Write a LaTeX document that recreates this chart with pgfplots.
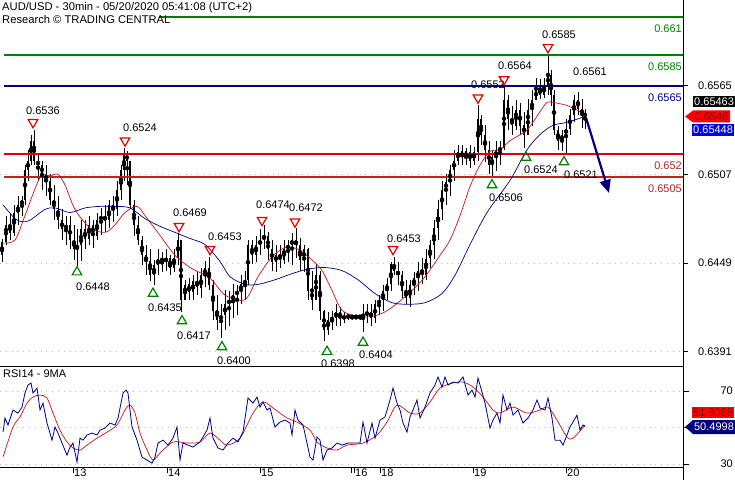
\documentclass[border=0pt]{standalone}
\usepackage{fontspec}
\setmainfont{Liberation Sans}
\usepackage{pgfplots}
\pgfplotsset{compat=1.18}
\usepackage{pgfplotstable}
\usetikzlibrary{arrows.meta}

\definecolor{tcgreen}{RGB}{0,128,0}
\definecolor{tcnavy}{RGB}{0,0,128}
\definecolor{tcred}{RGB}{225,0,0}
\definecolor{tcdred}{RGB}{200,30,30}
\definecolor{tclabel}{RGB}{170,40,40}
\definecolor{tcblue}{RGB}{0,0,230}
\definecolor{flagtext}{RGB}{130,0,0}
\definecolor{gridgray}{RGB}{185,185,185}
\definecolor{mared}{RGB}{200,20,20}

% 30min candles (sampled), x = bar position
\pgfplotstableread{
x o h l c
2 0.6454 0.6465 0.6450 0.6463
6 0.6463 0.6480 0.6461 0.6474
10 0.6474 0.6482 0.6464 0.6469
14 0.6469 0.6487 0.6467 0.6482
18 0.6482 0.6493 0.6474 0.6487
22 0.6487 0.6493 0.6480 0.6490
25 0.6490 0.6513 0.6487 0.6510
28 0.6510 0.6523 0.6503 0.6516
31 0.6516 0.6533 0.6513 0.6529
34 0.6529 0.6536 0.6513 0.6516
38 0.6516 0.6520 0.6503 0.6513
42 0.6513 0.6516 0.6497 0.6507
46 0.6507 0.6513 0.6493 0.6503
50 0.6503 0.6507 0.6487 0.6490
54 0.6490 0.6500 0.6477 0.6484
58 0.6484 0.6493 0.6471 0.6477
62 0.6477 0.6484 0.6464 0.6471
66 0.6471 0.6480 0.6461 0.6474
70 0.6474 0.6480 0.6458 0.6464
74 0.6464 0.6474 0.6451 0.6458
77 0.6458 0.6471 0.6447 0.6461
81 0.6461 0.6477 0.6450 0.6471
85 0.6471 0.6477 0.6458 0.6465
89 0.6465 0.6480 0.6461 0.6474
93 0.6474 0.6477 0.6459 0.6467
97 0.6467 0.6482 0.6464 0.6477
101 0.6477 0.6485 0.6467 0.6480
105 0.6480 0.6487 0.6469 0.6477
109 0.6477 0.6490 0.6472 0.6487
113 0.6487 0.6493 0.6476 0.6484
117 0.6484 0.6503 0.6480 0.6497
121 0.6497 0.6513 0.6490 0.6510
124 0.6510 0.6524 0.6503 0.6520
127 0.6520 0.6522 0.6500 0.6516
130 0.6516 0.6516 0.6484 0.6487
134 0.6487 0.6490 0.6467 0.6474
138 0.6474 0.6480 0.6461 0.6464
142 0.6464 0.6467 0.6448 0.6454
146 0.6454 0.6461 0.6441 0.6450
150 0.6450 0.6458 0.6437 0.6441
154 0.6441 0.6451 0.6435 0.6448
158 0.6448 0.6458 0.6441 0.6452
162 0.6452 0.6456 0.6443 0.6450
166 0.6450 0.6458 0.6444 0.6452
170 0.6452 0.6454 0.6441 0.6446
174 0.6446 0.6458 0.6443 0.6452
178 0.6452 0.6469 0.6448 0.6464
181 0.6464 0.6464 0.6417 0.6425
185 0.6425 0.6438 0.6425 0.6435
189 0.6435 0.6439 0.6425 0.6430
193 0.6430 0.6441 0.6425 0.6437
197 0.6437 0.6444 0.6428 0.6433
201 0.6433 0.6446 0.6426 0.6441
205 0.6441 0.6450 0.6433 0.6446
209 0.6446 0.6453 0.6431 0.6435
213 0.6435 0.6438 0.6412 0.6418
217 0.6418 0.6428 0.6405 0.6412
221 0.6412 0.6422 0.6400 0.6415
225 0.6415 0.6431 0.6405 0.6422
229 0.6422 0.6431 0.6408 0.6425
233 0.6425 0.6435 0.6413 0.6428
237 0.6428 0.6435 0.6415 0.6431
241 0.6431 0.6441 0.6422 0.6435
245 0.6435 0.6444 0.6425 0.6438
248 0.6438 0.6464 0.6435 0.6461
252 0.6461 0.6464 0.6448 0.6454
256 0.6454 0.6467 0.6450 0.6461
260 0.6461 0.6471 0.6454 0.6464
264 0.6464 0.6474 0.6458 0.6467
268 0.6467 0.6469 0.6451 0.6458
272 0.6458 0.6464 0.6444 0.6450
276 0.6450 0.6461 0.6443 0.6454
280 0.6454 0.6461 0.6446 0.6451
284 0.6451 0.6464 0.6448 0.6458
288 0.6458 0.6464 0.6450 0.6461
292 0.6461 0.6469 0.6448 0.6464
296 0.6464 0.6472 0.6452 0.6461
300 0.6461 0.6465 0.6444 0.6451
304 0.6451 0.6461 0.6443 0.6458
308 0.6458 0.6459 0.6425 0.6431
312 0.6431 0.6444 0.6418 0.6425
316 0.6425 0.6448 0.6425 0.6441
320 0.6441 0.6444 0.6412 0.6418
324 0.6418 0.6418 0.6398 0.6405
328 0.6405 0.6417 0.6402 0.6412
332 0.6412 0.6418 0.6405 0.6413
336 0.6413 0.6422 0.6408 0.6417
340 0.6417 0.6420 0.6408 0.6413
344 0.6413 0.6417 0.6410 0.6414
348 0.6414 0.6416 0.6412 0.6414
352 0.6414 0.6415 0.6412 0.6414
356 0.6414 0.6414 0.6413 0.6414
360 0.6414 0.6415 0.6412 0.6414
363 0.6414 0.6422 0.6404 0.6415
367 0.6415 0.6422 0.6410 0.6417
371 0.6417 0.6422 0.6408 0.6413
375 0.6413 0.6425 0.6410 0.6422
379 0.6422 0.6428 0.6415 0.6425
383 0.6425 0.6435 0.6418 0.6431
387 0.6431 0.6439 0.6425 0.6435
391 0.6435 0.6450 0.6431 0.6448
394 0.6448 0.6453 0.6441 0.6444
398 0.6444 0.6450 0.6435 0.6441
402 0.6441 0.6444 0.6426 0.6431
406 0.6431 0.6438 0.6422 0.6426
410 0.6426 0.6438 0.6420 0.6435
414 0.6435 0.6443 0.6428 0.6439
418 0.6439 0.6450 0.6431 0.6444
422 0.6444 0.6452 0.6435 0.6441
426 0.6441 0.6458 0.6438 0.6452
430 0.6452 0.6464 0.6446 0.6461
434 0.6461 0.6477 0.6452 0.6472
438 0.6472 0.6490 0.6464 0.6484
442 0.6484 0.6503 0.6477 0.6497
446 0.6497 0.6507 0.6487 0.6502
450 0.6502 0.6513 0.6493 0.6510
454 0.6510 0.6523 0.6503 0.6516
458 0.6516 0.6526 0.6513 0.6522
462 0.6522 0.6526 0.6513 0.6518
466 0.6518 0.6524 0.6513 0.6522
470 0.6522 0.6526 0.6511 0.6516
474 0.6516 0.6525 0.6513 0.6522
478 0.6522 0.6552 0.6516 0.6543
481 0.6543 0.6546 0.6526 0.6533
485 0.6533 0.6539 0.6515 0.6523
489 0.6523 0.6529 0.6507 0.6513
492 0.6513 0.6523 0.6506 0.6518
496 0.6518 0.6529 0.6509 0.6523
500 0.6523 0.6529 0.6513 0.6524
504 0.6524 0.6564 0.6523 0.6556
508 0.6556 0.6559 0.6536 0.6543
512 0.6543 0.6552 0.6533 0.6539
516 0.6539 0.6556 0.6536 0.6549
520 0.6549 0.6554 0.6533 0.6539
524 0.6539 0.6548 0.6524 0.6533
528 0.6533 0.6556 0.6533 0.6549
532 0.6549 0.6562 0.6539 0.6556
536 0.6556 0.6570 0.6556 0.6563
540 0.6563 0.6569 0.6556 0.6559
544 0.6559 0.6570 0.6557 0.6565
548 0.6565 0.6585 0.6559 0.6572
551 0.6572 0.6575 0.6552 0.6559
554 0.6559 0.6562 0.6533 0.6536
558 0.6536 0.6539 0.6523 0.6529
562 0.6529 0.6536 0.6522 0.6533
566 0.6533 0.6543 0.6521 0.6537
570 0.6537 0.6550 0.6533 0.6546
574 0.6546 0.6559 0.6541 0.6556
578 0.6556 0.6561 0.6546 0.6550
582 0.6550 0.6556 0.6537 0.6546
585 0.6546 0.6550 0.6537 0.6546
}\candles

% fast moving average (red)
\pgfplotstableread{
x y
3 0.6462
15 0.6464
25 0.6480
40 0.6505
50 0.6506
58 0.6507
65 0.6500
75 0.6484
90 0.6472
105 0.6469
115 0.6474
125 0.6482
137 0.6486
145 0.6480
160 0.6467
175 0.6454
190 0.6446
210 0.6439
225 0.6428
245 0.6425
258 0.6440
272 0.6453
285 0.6459
298 0.6458
312 0.6451
322 0.6444
332 0.6431
342 0.6418
358 0.6414
372 0.6414
385 0.6417
398 0.6423
412 0.6431
425 0.6440
440 0.6454
450 0.6464
460 0.6480
470 0.6499
480 0.6513
490 0.6522
500 0.6523
510 0.6529
527 0.6536
540 0.6548
547 0.6554
553 0.6554
567 0.6552
580 0.6548
586 0.6546
}\fastma

% slow moving average (blue)
\pgfplotstableread{
x y
3 0.6487
15 0.6478
22 0.6476
30 0.6477
45 0.6484
55 0.6485
70 0.6482
85 0.6485
100 0.6486
115 0.6486
130 0.6485
145 0.6478
160 0.6473
175 0.6469
190 0.6465
205 0.6461
220 0.6450
230 0.6440
245 0.6435
258 0.6435
275 0.6438
292 0.6442
308 0.6445
325 0.6446
342 0.6444
358 0.6438
375 0.6429
392 0.6423
408 0.6422
425 0.6423
442 0.6429
455 0.6441
470 0.6461
487 0.6482
510 0.6503
527 0.6523
540 0.6533
553 0.6539
567 0.6541
586 0.6545
}\slowma

% RSI14
\pgfplotstableread{
x y
3 47.5
5 55.2
8 51.4
13 59.6
18 57.9
22 61.2
25 68.9
28 73.3
31 74.4
33 68.9
37 71.6
40 59.6
43 63.4
47 52.5
52 43.1
55 50.3
58 47.0
62 41.5
67 34.9
70 39.3
73 41.5
77 31.1
80 44.2
83 43.1
87 45.9
92 47.0
97 45.9
100 48.6
105 49.7
110 52.5
115 51.4
118 55.2
123 68.9
126 70.5
128 68.9
132 50.3
137 43.1
142 33.8
147 32.2
152 30.5
155 33.8
158 41.5
163 43.1
168 40.4
173 44.2
177 50.3
180 32.2
183 41.5
188 40.4
193 39.3
200 42.1
207 48.6
210 55.2
213 44.2
218 38.8
223 37.7
228 41.5
233 44.2
238 42.1
243 47.5
248 66.2
253 63.4
257 66.7
260 61.2
263 64.0
267 59.6
270 60.7
275 50.3
280 53.0
285 54.1
290 52.5
292 45.9
295 59.6
298 54.1
303 51.4
307 41.5
310 33.8
313 32.2
317 44.8
320 43.1
323 32.2
327 37.7
332 38.8
337 41.5
342 40.4
348 41.5
360 41.5
363 53.0
367 41.5
372 52.5
375 44.2
380 54.1
385 55.8
390 65.1
393 71.6
397 63.4
400 59.6
403 52.5
407 47.5
410 55.8
413 59.6
417 65.1
420 55.2
425 61.2
430 68.9
435 73.3
438 77.7
442 72.2
445 77.7
448 73.3
453 74.9
458 74.4
463 77.7
468 67.8
472 70.5
475 66.7
478 77.1
482 69.5
485 63.4
490 49.7
493 54.1
497 57.9
500 52.5
503 67.8
507 59.6
510 63.4
513 56.8
518 59.6
523 52.5
528 55.2
533 59.6
537 65.1
540 60.7
545 59.6
548 66.2
552 55.2
555 43.1
560 43.1
563 40.4
567 45.9
570 50.3
573 53.0
577 56.8
580 48.6
583 51.4
585 50.5
}\rsi

% 9-period MA of RSI
\pgfplotstableread{
x y
3 33.8
13 50.3
20 55.8
27 63.4
33 66.7
40 67.8
47 66.2
53 57.9
60 48.6
67 42.1
73 38.8
80 37.7
87 40.4
97 44.2
107 47.5
117 51.4
125 59.6
130 62.3
135 57.9
140 47.0
147 37.7
153 32.2
160 36.0
173 42.1
187 41.5
200 42.1
210 47.0
220 43.1
227 40.4
240 44.2
253 57.9
263 64.0
273 60.7
287 55.2
297 53.0
310 48.6
317 42.1
327 38.8
337 37.7
347 40.4
363 41.5
377 45.9
387 53.0
397 62.3
410 57.9
420 57.9
430 64.0
440 71.6
453 74.4
463 74.9
473 72.2
483 66.7
493 59.6
500 57.9
513 61.2
527 57.9
540 59.6
548 61.2
557 54.1
567 44.8
573 44.2
585 51.3
}\rsima

\begin{document}
\begin{tikzpicture}[font=\fontsize{11}{13}\selectfont]
\pgfplotsset{
  tcpanel/.style={
    scale only axis, width=683pt, xmin=0, xmax=683,
    axis x line*=bottom, axis y line*=right,
    axis line style={black, line width=0.9pt},
    tick style={black, line width=0.9pt},
    tick align=outside, major tick length=5pt,
    ymajorgrids, major grid style={gridgray, line width=0.6pt, dash pattern=on 0.8pt off 5pt},
    yticklabel style={anchor=east, inner sep=0pt, xshift=44pt},
    clip=false,
  },
}
% ---------------- price panel ----------------
\begin{axis}[tcpanel,
  at={(0,114pt)}, anchor=south west, height=366pt,
  ymin=0.63816, ymax=0.6621,
  xtick=\empty,
  ytick={0.6391,0.6449,0.6507,0.6565},
  yticklabels={0.6391,0.6449,0.6507,0.6565},
]
% candles: wicks then bodies
\addplot[only marks, mark=none, forget plot,
  error bars/.cd, y dir=both, y explicit, error mark=none,
  error bar style={draw=black, line width=1pt}]
  table[x=x, y expr=(\thisrow{h}+\thisrow{l})/2,
        y error expr=(\thisrow{h}-\thisrow{l})/2] {\candles};
\addplot[only marks, mark=none, forget plot,
  error bars/.cd, y dir=both, y explicit, error mark=none,
  error bar style={draw=black, line width=2.8pt}]
  table[x=x, y expr=(\thisrow{o}+\thisrow{c})/2,
        y error expr=abs(\thisrow{o}-\thisrow{c})/2] {\candles};

% key levels
\addplot[tcgreen, line width=1.7pt] coordinates {(159,0.661) (683,0.661)};
\addplot[tcgreen, line width=1.7pt] coordinates {(4,0.6585) (683,0.6585)};
\addplot[tcnavy, line width=2pt] coordinates {(4,0.6565) (683,0.6565)};
\addplot[tcred, line width=2pt] coordinates {(4,0.652) (683,0.652)};
\addplot[tcdred, line width=1.8pt] coordinates {(4,0.6505) (683,0.6505)};
\node[tcgreen, anchor=north east, inner sep=0pt] at (axis cs:682,0.6605) {0.661};
\node[tcgreen, anchor=north east, inner sep=0pt] at (axis cs:682,0.6580) {0.6585};
\node[tcnavy, anchor=north east, inner sep=0pt] at (axis cs:682,0.6560) {0.6565};
\node[tclabel, anchor=north east, inner sep=0pt] at (axis cs:682,0.6515) {0.652};
\node[tclabel, anchor=north east, inner sep=0pt] at (axis cs:682,0.6500) {0.6505};

% moving averages
\addplot[mared, line width=0.7pt, smooth] table {\fastma};
\addplot[tcnavy, line width=0.7pt, smooth] table {\slowma};

% swing highs / lows
\addplot[only marks, mark=triangle, mark size=5.5pt,
  mark options={draw=tcred, fill=white, line width=1.2pt, rotate=180}]
  coordinates {(33,0.6541) (125,0.6529) (179,0.6473) (210,0.6458) (262,0.6477)
               (295,0.6476) (393,0.6458) (478,0.6557) (504,0.6569) (548,0.6590)};
\addplot[only marks, mark=triangle, mark size=5.5pt,
  mark options={draw=tcgreen, fill=white, line width=1.2pt}]
  coordinates {(77,0.6443) (153,0.6429) (182,0.6411) (222,0.6394) (327,0.6391)
               (363,0.6397) (492,0.6500) (526,0.6518) (564,0.6515)};
\node at (axis cs:43,0.65484) {0.6536};
\node at (axis cs:140,0.65373) {0.6524};
\node at (axis cs:190,0.64817) {0.6469};
\node at (axis cs:225,0.6466) {0.6453};
\node at (axis cs:273,0.64869) {0.6474};
\node at (axis cs:306,0.6485) {0.6472};
\node at (axis cs:404,0.64647) {0.6453};
\node at (axis cs:488,0.65654) {0.6552};
\node at (axis cs:515,0.65778) {0.6564};
\node at (axis cs:559,0.65981) {0.6585};
\node at (axis cs:590,0.65739) {0.6561};
\node at (axis cs:93,0.64333) {0.6448};
\node at (axis cs:165,0.64196) {0.6435};
\node at (axis cs:194,0.64013) {0.6417};
\node at (axis cs:234,0.63849) {0.6400};
\node at (axis cs:338,0.63829) {0.6398};
\node at (axis cs:376,0.63888) {0.6404};
\node at (axis cs:506,0.64915) {0.6506};
\node at (axis cs:541,0.65098) {0.6524};
\node at (axis cs:581,0.65066) {0.6521};

% forecast arrow
\draw[tcnavy, line width=2.2pt, -{Triangle[length=13pt, width=11pt]}]
  (axis cs:586,0.6544) -- (axis cs:609,0.64948);
\end{axis}

% ---------------- RSI panel ----------------
\begin{axis}[tcpanel,
  at={(0,13pt)}, anchor=south west, height=101pt,
  ymin=28.4, ymax=83.7,
  xtick={73,167,260,351,354,380,473,566},
  xticklabels={13,14,15,,16,18,19,20},
  major tick length=6pt,
  xticklabel style={anchor=north west, inner sep=0pt, xshift=1pt, yshift=4pt},
  ytick={30,50,70}, yticklabels={30,,70},
]
\addplot[mared, line width=0.7pt, smooth] table {\rsima};
\addplot[tcnavy, line width=0.8pt] table {\rsi};
\end{axis}

% header texts
\node[anchor=north west, inner sep=0pt, align=left, font=\fontsize{11.2}{13}\selectfont] at (2pt,478pt)
  {AUD/USD - 30min - 05/20/2020 05:41:08 (UTC+2)\\Research © TRADING CENTRAL};
\node[anchor=north west, inner sep=0pt] at (3pt,110pt) {RSI14 - 9MA};
\draw[black, line width=0.9pt] (683pt,13pt) -- (683pt,0pt);

% value flags on the right scale
\node[fill=black, text=white, anchor=west, inner sep=1pt, minimum height=11pt] at (693pt,378.5pt) {0.65463};
\fill[red] (685pt,363.5pt) -- (693pt,369.5pt) -- (730pt,369.5pt) -- (730pt,357.5pt) -- (693pt,357.5pt) -- cycle;
\node[text=flagtext, inner sep=0pt] at (711.5pt,363.5pt) {0.6546};
\node[fill=tcblue, text=white, anchor=west, inner sep=1pt, minimum height=12pt] at (692pt,350pt) {0.65448};
\node[fill=red, text=flagtext, anchor=west, inner sep=1pt, minimum height=11pt] at (692pt,67.5pt) {51.3068};
\fill[tcnavy] (685pt,53pt) -- (693pt,60pt) -- (735pt,60pt) -- (735pt,46pt) -- (693pt,46pt) -- cycle;
\node[text=white, inner sep=0pt] at (714pt,53pt) {50.4998};

\pgfresetboundingbox
\path (0,0) rectangle (735pt,480pt);
\end{tikzpicture}
\end{document}
